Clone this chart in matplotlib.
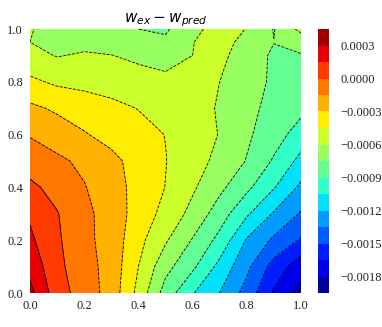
import numpy as np
import matplotlib
matplotlib.use('Agg')
import matplotlib.pyplot as plt

plt.rcParams['font.family'] = ['Liberation Serif', 'DejaVu Sans']
plt.rcParams['mathtext.fontset'] = 'dejavusans'

x_vals = [0.0, 0.1, 0.2, 0.3, 0.4, 0.5, 0.6, 0.7, 0.8, 0.9, 1.0]
y_vals = [0.0, 0.1, 0.2, 0.3, 0.4, 0.5, 0.6, 0.7, 0.8, 0.9, 0.95, 1.0]

# in units of 1.5e-4 above the lowest level
z_bands = [
    [15.3, 13.44, 12.54, 11.6, 9.7, 7.57, 6.07, 5.0, 3.63, 1.86, 0.65],
    [14.7, 13.25, 12.4, 11.62, 10.0, 8.33, 7.2, 5.7, 4.23, 2.6, 1.4],
    [14.2, 13.15, 12.26, 11.6, 10.3, 9.12, 7.93, 6.69, 4.9, 3.82, 2.9],
    [13.85, 13.05, 12.26, 11.55, 10.6, 9.68, 8.7, 7.5, 6.14, 4.9, 3.9],
    [13.2, 12.69, 12.06, 11.39, 10.7, 9.98, 9.14, 8.23, 7.23, 6.06, 4.8],
    [12.56, 12.2, 11.78, 11.24, 10.66, 10.03, 9.41, 8.73, 7.95, 6.88, 5.7],
    [11.93, 11.5, 11.07, 10.7, 10.34, 9.98, 9.48, 8.96, 8.16, 7.43, 6.55],
    [11.2, 10.85, 10.56, 10.26, 9.97, 9.63, 9.3, 8.93, 8.3, 7.67, 7.25],
    [10.2, 9.83, 9.7, 9.57, 9.4, 9.22, 9.2, 9.0, 8.4, 7.85, 7.57],
    [9.3, 8.95, 9.1, 9.02, 8.8, 8.65, 9.0, 9.25, 8.5, 7.85, 7.95],
    [9.0, 8.8, 8.75, 8.6, 8.4, 8.2, 8.98, 9.3, 8.75, 8.02, 8.3],
    [9.05, 8.7, 8.45, 8.2, 8.0, 7.85, 8.8, 9.3, 8.98, 7.95, 9.3],
]
levels = [-0.00195, -0.0018, -0.00165, -0.0015, -0.00135, -0.0012, -0.00105, -0.0009,
          -0.00075, -0.0006, -0.00045, -0.0003, -0.00015, 0.0, 0.00015, 0.0003, 0.00045]
cbar_ticks = [-0.0018, -0.0015, -0.0012, -0.0009, -0.0006, -0.0003, 0.0, 0.0003]
xy_ticks = [0.0, 0.2, 0.4, 0.6, 0.8, 1.0]

Z = -0.00195 + 0.00015 * np.array(z_bands)

W, H = 382, 327
fig = plt.figure(figsize=(W / 100, H / 100), dpi=100)
ax = fig.add_axes([30 / W, 1 - 293 / H, 271 / W, 264 / H])
cax = fig.add_axes([318 / W, 1 - 293 / H, 11 / W, 264 / H])

cf = ax.contourf(x_vals, y_vals, Z, levels=levels, cmap='jet')
ax.contour(x_vals, y_vals, Z, levels=levels, colors='k', linewidths=0.6)
ax.set_xticks(xy_ticks)
ax.set_yticks(xy_ticks)
ax.tick_params(length=0, labelsize=9, pad=5, colors='#222222')
for s in ax.spines.values():
    s.set_visible(False)
ax.set_title(r'$w_{ex} - w_{pred}$', fontsize=11, pad=5)

cb = fig.colorbar(cf, cax=cax, ticks=cbar_ticks, format='%.4f')
cb.outline.set_visible(False)
cb.ax.tick_params(length=0, labelsize=9, pad=8, colors='#222222')
cb.ax.set_yticklabels(['\u2212%.4f' % abs(t) if t < 0 else '%.4f' % t for t in cbar_ticks])

fig.savefig('out.png', dpi=100)
